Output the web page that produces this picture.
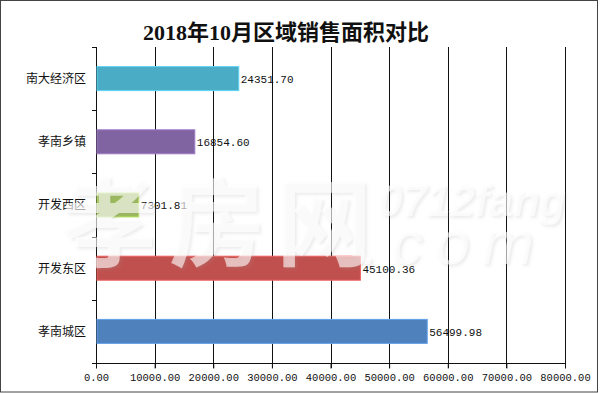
<!DOCTYPE html>
<html>
<head>
<meta charset="utf-8">
<script src="https://cdn.jsdelivr.net/npm/d3@7"></script>
<style>
  body { margin: 0; background: #fff; }
  svg { display: block; }
</style>
</head>
<body>
<div id="chart"></div>
<script>
// data
const regions = ['南大经济区', '孝南乡镇', '开发西区', '开发东区', '孝南城区'];
const areas = [24351.70, 16854.60, 7301.81, 45100.36, 56499.98];
const barColors = ['#4BACC6', '#8064A2', '#9BBB59', '#C0504D', '#4F81BD'];
const xTicks = [0, 10000, 20000, 30000, 40000, 50000, 60000, 70000, 80000];
const title = '2018年10月区域销售面积对比';

const width = 600,
  height = 393;
const margin = { top: 47, right: 35, bottom: 30, left: 96 };

const svg = d3
  .select('#chart')
  .append('svg')
  .attr('width', width)
  .attr('height', height);

// outer frame
svg
  .append('rect')
  .attr('x', 0.5)
  .attr('y', 0.5)
  .attr('width', width - 3)
  .attr('height', height - 1.5)
  .attr('fill', '#fff')
  .attr('stroke', '#444');

const x = d3
  .scaleLinear()
  .domain([0, 80000])
  .range([margin.left, width - margin.right]);

const y = d3
  .scaleBand()
  .domain(regions)
  .range([margin.top, height - margin.bottom])
  .paddingInner(0.62)
  .paddingOuter(0.31);

svg
  .append('text')
  .attr('x', 286)
  .attr('y', 40)
  .attr('text-anchor', 'middle')
  .attr('font-family', '"Liberation Serif", "Noto Sans CJK SC", serif')
  .attr('font-size', 22)
  .attr('font-weight', 'bold')
  .attr('fill', '#111')
  .text(title);

// vertical grid lines + bottom ticks
svg
  .append('g')
  .selectAll('line')
  .data(xTicks.slice(1))
  .join('line')
  .attr('x1', (d) => Math.round(x(d)) + 0.5)
  .attr('x2', (d) => Math.round(x(d)) + 0.5)
  .attr('y1', margin.top)
  .attr('y2', height - margin.bottom + 5)
  .attr('stroke', '#111');

// bottom axis
const xAxis = svg
  .append('g')
  .attr('transform', `translate(0,${height - margin.bottom + 0.5})`)
  .call(
    d3
      .axisBottom(x)
      .tickValues(xTicks)
      .tickSize(5)
      .tickFormat((d) => d.toFixed(2)),
  );
xAxis.select('.domain').attr('d', `M${margin.left - 4},0H${x(80000)}`).attr('stroke', '#111');
xAxis.selectAll('.tick line').attr('stroke', '#111');
xAxis
  .selectAll('.tick text')
  .attr('font-family', '"Liberation Mono", monospace')
  .attr('font-size', 10.5)
  .attr('fill', '#111')
  .attr('dy', '0.95em');

// left axis with ticks at band boundaries
const bounds = regions.map((r) => y(r) - (y.step() * y.paddingInner()) / 2);
bounds.push(height - margin.bottom);
const yAxis = svg.append('g');
yAxis
  .append('line')
  .attr('x1', margin.left + 0.5)
  .attr('x2', margin.left + 0.5)
  .attr('y1', margin.top)
  .attr('y2', height - margin.bottom)
  .attr('stroke', '#111');
yAxis
  .selectAll('line.tk')
  .data(bounds)
  .join('line')
  .attr('class', 'tk')
  .attr('x1', margin.left - 4)
  .attr('x2', margin.left)
  .attr('y1', (d) => Math.round(d) + 0.5)
  .attr('y2', (d) => Math.round(d) + 0.5)
  .attr('stroke', '#111');

yAxis
  .selectAll('text')
  .data(regions)
  .join('text')
  .attr('x', margin.left - 10)
  .attr('y', (d) => y(d) + y.bandwidth() / 2)
  .attr('dy', '0.36em')
  .attr('text-anchor', 'end')
  .attr('font-family', '"Noto Sans CJK SC", sans-serif')
  .attr('font-size', 12)
  .attr('fill', '#111')
  .text((d) => d);

// bars
svg
  .append('g')
  .selectAll('rect')
  .data(regions)
  .join('rect')
  .attr('x', x(0) + 1)
  .attr('y', (d) => y(d))
  .attr('width', (d, i) => x(areas[i]) - x(0) - 1)
  .attr('height', y.bandwidth())
  .attr('fill', (d, i) => barColors[i])
  .attr('stroke', (d, i) => d3.color(barColors[i]).brighter(0.6))
  .attr('stroke-width', 1);

// value labels
svg
  .append('g')
  .selectAll('text')
  .data(regions)
  .join('text')
  .attr('x', (d, i) => x(areas[i]) + 2)
  .attr('y', (d) => y(d) + y.bandwidth() / 2)
  .attr('dy', '0.4em')
  .attr('font-family', '"Liberation Mono", monospace')
  .attr('font-size', 11)
  .attr('fill', '#111')
  .text((d, i) => areas[i].toFixed(2));

// watermark (site stamp over the chart)
const defs = svg.append('defs');
const f = defs.append('filter').attr('id', 'wm').attr('x', '-10%').attr('y', '-10%').attr('width', '130%').attr('height', '130%');
f.append('feDropShadow')
  .attr('dx', 2)
  .attr('dy', 2)
  .attr('stdDeviation', 1.5)
  .attr('flood-color', '#999')
  .attr('flood-opacity', 0.3);

const wm = svg.append('g').attr('filter', 'url(#wm)').attr('fill', '#fff').attr('fill-opacity', 0.6);
wm.append('text')
  .attr('x', 62)
  .attr('y', 258)
  .attr('font-family', '"Noto Sans CJK SC", sans-serif')
  .attr('font-weight', 'bold')
  .attr('font-size', 96)
  .attr('textLength', 310)
  .text('孝房网');
wm.append('text')
  .attr('x', 378)
  .attr('y', 216)
  .attr('font-family', '"Liberation Sans", sans-serif')
  .attr('font-weight', 'bold')
  .attr('font-style', 'italic')
  .attr('font-size', 44)
  .attr('textLength', 188)
  .text('0712fang');
wm.append('text')
  .attr('x', 362)
  .attr('y', 264)
  .attr('font-family', '"Liberation Sans", sans-serif')
  .attr('font-style', 'italic')
  .attr('font-size', 62)
  .attr('textLength', 172)
  .text('.com');
</script>
</body>
</html>
